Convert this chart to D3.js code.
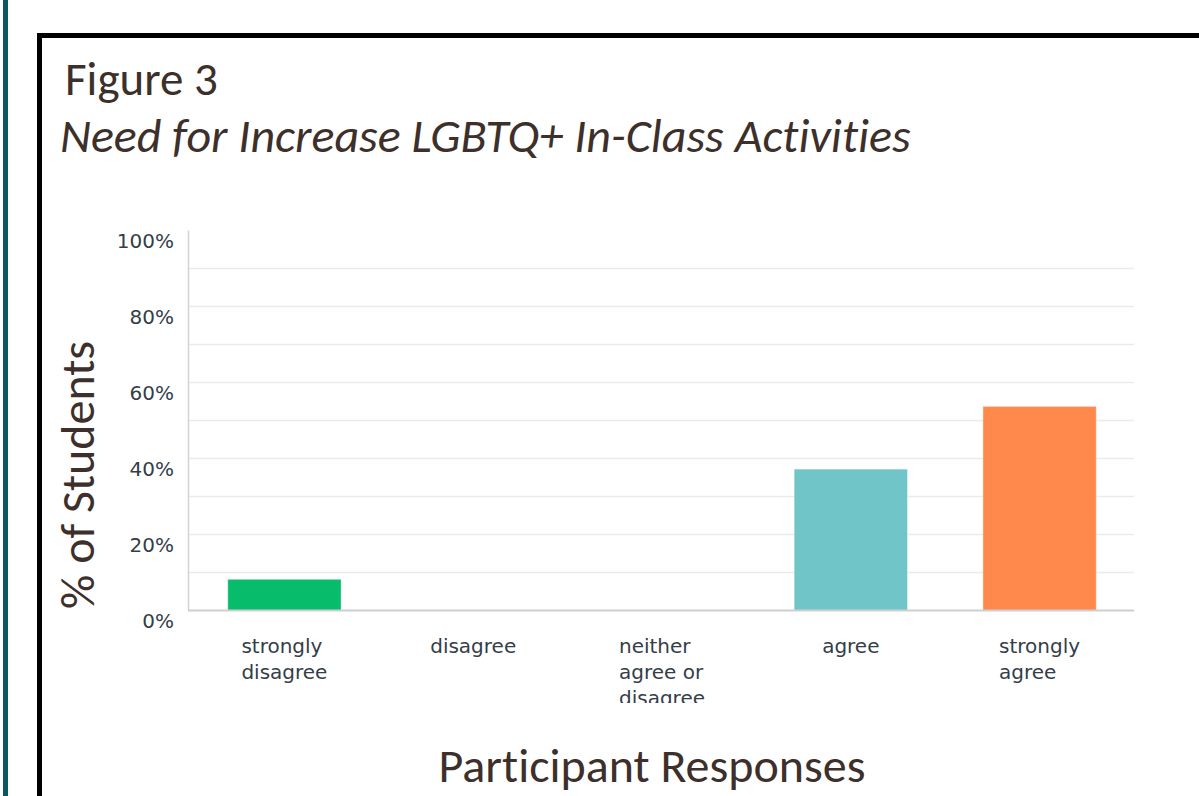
<!DOCTYPE html>
<html>
<head>
<meta charset="utf-8">
<script src="https://cdn.jsdelivr.net/npm/d3@7"></script>
<style>
  body { margin: 0; background: #fff; }
  svg { display: block; }
  text { font-variant-ligatures: none; }
</style>
</head>
<body>
<script>
var width = 1199,
    height = 796;

var categories = ["strongly disagree", "disagree", "neither agree or disagree", "agree", "strongly agree"];
var labelLines = [["strongly", "disagree"], ["disagree"], ["neither", "agree or", "disagree"], ["agree"], ["strongly", "agree"]];
var percents = [8.2, 0, 0, 37.2, 53.7];
var barColors = ["#07bc6a", "#07bc6a", "#07bc6a", "#6fc5c8", "#ff884d"];
var yTicks = [0, 20, 40, 60, 80, 100];
var gridTicks = [10, 20, 30, 40, 50, 60, 70, 80, 90];

var titleFont = "Carlito, 'Open Sans', sans-serif",
    tickFont = "'DejaVu Sans', sans-serif",
    brown = "#3d302b",
    tickColor = "#333e48";

var svg = d3.select("body").append("svg")
    .attr("width", width)
    .attr("height", height);

// teal strip at the left edge
svg.append("rect")
    .attr("x", 3).attr("y", 0)
    .attr("width", 5).attr("height", height)
    .attr("fill", "#0b5662");

// black frame (runs off the right and bottom)
svg.append("rect")
    .attr("x", 39.5).attr("y", 35.5)
    .attr("width", width).attr("height", height)
    .attr("fill", "none")
    .attr("stroke", "#000")
    .attr("stroke-width", 5);

svg.append("text")
    .attr("x", 65).attr("y", 95)
    .attr("font-family", titleFont)
    .attr("font-size", 47)
    .attr("fill", brown)
    .text("Figure 3");

svg.append("text")
    .attr("x", 60).attr("y", 152)
    .attr("font-family", titleFont)
    .attr("font-style", "italic")
    .attr("font-size", 48)
    .attr("fill", brown)
    .text("Need for Increase LGBTQ+ In-Class Activities");

var x = d3.scaleBand()
    .domain(categories)
    .range([190, 1134])
    .paddingInner(0.4)
    .paddingOuter(0.2);

var y = d3.scaleLinear()
    .domain([0, 100])
    .range([610.5, 230.5]);

// gridlines
svg.append("g")
    .selectAll("line")
    .data(gridTicks)
    .join("line")
    .attr("x1", 189).attr("x2", 1134)
    .attr("y1", d => y(d)).attr("y2", d => y(d))
    .attr("stroke", "#ebebeb")
    .attr("stroke-width", 1.5);

// y axis line
svg.append("line")
    .attr("x1", 188.5).attr("x2", 188.5)
    .attr("y1", y(100)).attr("y2", y(0))
    .attr("stroke", "#d3d3d3")
    .attr("stroke-width", 1.5);

// bars
svg.append("g")
    .selectAll("rect")
    .data(percents)
    .join("rect")
    .attr("x", (d, i) => x(categories[i]))
    .attr("width", x.bandwidth())
    .attr("y", d => y(d))
    .attr("height", d => y(0) - y(d))
    .attr("fill", (d, i) => barColors[i])
    .attr("stroke", "rgba(255,255,255,0.35)")
    .attr("stroke-width", 1);

// baseline
svg.append("line")
    .attr("x1", 188).attr("x2", 1134)
    .attr("y1", y(0)).attr("y2", y(0))
    .attr("stroke", "#cfcfcf")
    .attr("stroke-width", 2);

// y tick labels (sit just below their value)
svg.append("g")
    .selectAll("text")
    .data(yTicks)
    .join("text")
    .attr("x", 174)
    .attr("y", d => y(d) + 17)
    .attr("text-anchor", "end")
    .attr("font-family", tickFont)
    .attr("font-size", 20)
    .attr("fill", tickColor)
    .text(d => d + "%");

// x labels, clipped like the original
svg.append("clipPath").attr("id", "labclip")
    .append("rect")
    .attr("x", 190).attr("y", 625)
    .attr("width", 950).attr("height", 78);

var lab = svg.append("g")
    .attr("clip-path", "url(#labclip)")
    .selectAll("text")
    .data(categories)
    .join("text")
    .attr("font-family", tickFont)
    .attr("font-size", 20)
    .attr("fill", tickColor);

// lines are left aligned, the block is centred on the band
lab.each(function(d, i) {
    var t = d3.select(this);
    labelLines[i].forEach(function(line, j) {
        t.append("tspan")
            .attr("x", 0)
            .attr("y", 653 + j * 26)
            .text(line);
    });
    var w = d3.max(t.selectAll("tspan").nodes(), n => n.getComputedTextLength());
    t.selectAll("tspan").attr("x", x(d) + x.bandwidth() / 2 - w / 2);
});

svg.append("text")
    .attr("transform", "translate(94,475) rotate(-90)")
    .attr("text-anchor", "middle")
    .attr("font-family", titleFont)
    .attr("font-size", 48)
    .attr("fill", brown)
    .text("% of Students");

svg.append("text")
    .attr("x", 652).attr("y", 782)
    .attr("text-anchor", "middle")
    .attr("font-family", titleFont)
    .attr("font-size", 48)
    .attr("fill", brown)
    .text("Participant Responses");
</script>
</body>
</html>
